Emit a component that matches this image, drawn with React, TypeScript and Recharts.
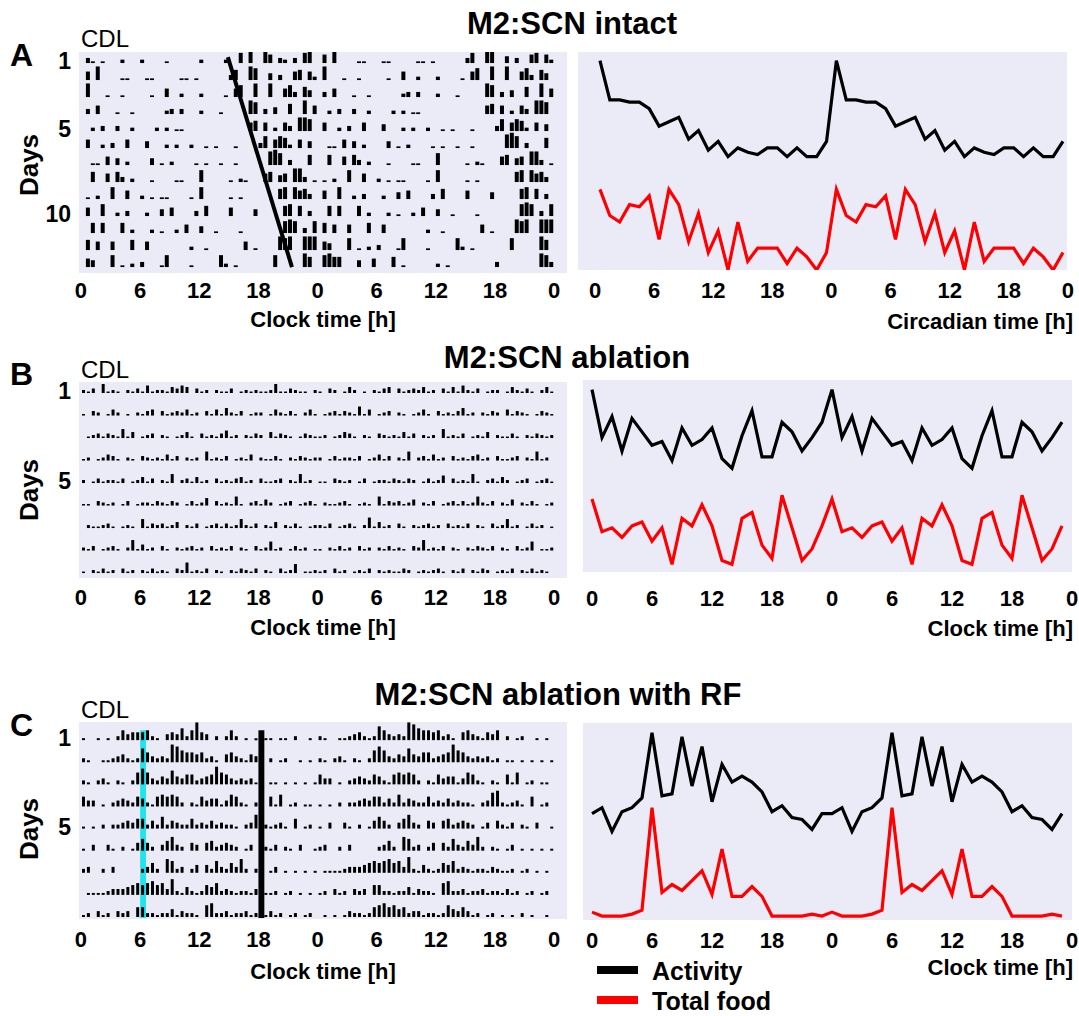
import React from "react";
import {
  Bar,
  BarChart,
  CartesianGrid,
  Line,
  LineChart,
  ReferenceArea,
  ReferenceLine,
  XAxis,
  YAxis,
} from "recharts";

const FONT = "'Liberation Sans', Arial, Helvetica, sans-serif";
const PANEL_BG = "#ebebf8";

const HOUR_TICKS = [0, 6, 12, 18, 24, 30, 36, 42, 48];

// wheel running per day, 30 min bins, height 0-9 (double plotted: row n = day n | day n+1)
const intactDays = [
  "03101000 20002000 01000000 20000200 60700850 32030670",
  "05080000 11000110 00001101 00000036 00870040 30056052",
  "08000100 10000010 05002000 20000105 70080080 05730640",
  "03050001 00100000 02303000 20001000 00870304 00600805",
  "00203003 00200002 02011000 00000000 00560502 05308870",
  "05002030 05000400 02020020 01010001 00003705 76205040",
  "00110504 02000040 10200001 01001001 00000089 70300060",
  "00600506 30200010 00011000 70000010 21000560 45088301",
  "01020070 05002010 11000010 70000010 10000000 67075630",
  "05007002 03000200 40500003 06000050 00040000 06706030",
  "00606000 60200020 10020500 40010000 10000000 07870307",
  "06050050 00600500 00000020 01000000 05010000 87800888",
  "05400070 10203000 17000010 00007201 00000007 00000860",
  "07866000 40050006 01000000 20100000 00003000 00000873",
];

const ablationDays = [
  "21306121 02131512 21435403 12021130 12121126 11321102",
  "10320142 01021340 31232412 03141521 30122014 21310241",
  "01231321 61401230 21012410 31213512 02132041 32101321",
  "12012431 02103212 14130212 06121301 21402113 10213212",
  "20131221 30124130 21602314 12031213 41203112 30216120",
  "11032120 13012213 21320131 25031216 10231420 12301231",
  "02112310 12106132 31240213 01231312 62130214 02131012",
  "21301231 02714120 31021231 20312130 21031261 20131201",
  "10213120 31202131 21032712 13021021 32130210 31260112",
  "12031201 21302121 13201212 31021302 13201213 02131210",
];

const rfDays = [
  "10010102 53444521 03436259 43020252 01010110 11020010",
  "21001123 42127532 32986554 52310453 21435020 12001010",
  "21023102 10268632 43743552 34596532 32312011 01010101",
  "53301023 43254215 65652021 53441365 21021051 60120110",
  "10102022 34355242 62432252 32423221 02378212 31050120",
  "10300310 20146420 35732043 04523432 01304213 02103001",
  "23002030 00002352 07623024 04263253 72021013 01010101",
  "01111233 34565675 63821421 25462321 22132112 01201010",
  "12031203 23055221 22413221 06722312 23122131 20120120",
  "01010132 21256756 45233122 12643531 20120101 02010010",
];

// activity onset line (intact) and restricted feeding marks (clock hours)
const intactOnset = { firstHour: 14.9, lastHour: 21.4 };
const rfFoodWindow = [6.0, 6.6];
const rfLightsMark = [18.0, 18.6];

// hourly profiles, relative scale 0-100
const intactActivity = [96, 78, 78, 77, 77, 74, 66, 68, 70, 60, 64, 55, 59, 52, 56, 54, 53, 56, 56, 52, 56, 52, 52, 59];
const intactFood = [37, 25, 22, 30, 29, 34, 14, 37, 30, 13, 26, 8, 18, 0, 22, 4, 10, 10, 10, 3, 10, 6, 0, 8];
const ablationActivity = [95, 70, 81, 63, 80, 73, 66, 68, 58, 75, 66, 69, 75, 59, 54, 71, 84, 60, 60, 78, 73, 63, 70, 78];
const ablationFood = [38, 21, 23, 18, 24, 26, 16, 23, 4, 28, 24, 35, 24, 6, 4, 28, 31, 14, 7, 40, 23, 6, 12, 24];
const rfActivity = [54, 57, 45, 55, 57, 62, 95, 63, 64, 93, 68, 88, 60, 79, 70, 73, 70, 65, 55, 58, 52, 51, 46, 54];
const rfFood = [4, 2, 2, 2, 3, 5, 57, 14, 18, 15, 20, 25, 13, 36, 12, 12, 17, 12, 2, 2, 2, 2, 3, 2];

const HourTick = (props: any) => {
  const { x, y, payload } = props;
  return (
    <text
      x={x}
      y={y}
      dy="0.71em"
      textAnchor="middle"
      fontSize={22}
      fontWeight="bold"
      fontFamily={FONT}
      fill="#000"
    >
      {payload.value % 24}
    </text>
  );
};

const rowBase = (row: number, nRows: number, padBottom: number) => padBottom + nRows - row;

type ActogramProps = {
  days: string[];
  top: number;
  plotHeight: number;
  padBottom: number;
  padTop: number;
  maxFrac: number;
  barSize: number;
  labelRows: number[];
  labelShift: number;
  tickMargin: number;
  children?: React.ReactNode;
};

const Actogram = ({
  days,
  top,
  plotHeight,
  padBottom,
  padTop,
  maxFrac,
  barSize,
  labelRows,
  labelShift,
  tickMargin,
  children,
}: ActogramProps) => {
  const perDay = days.map((d) => d.replace(/\s/g, "").split("").map(Number));
  const rows = perDay.slice(0, -1).map((d, i) => [...d, ...perDay[i + 1]]);
  const n = rows.length;
  const yMax = padBottom + n - 1 + padTop;

  const data = rows[0].map((_, b) => {
    const entry: Record<string, number> = { t: b / 2 + 0.25, pad: padBottom };
    rows.forEach((row, r) => {
      const h = (row[b] / 9) * maxFrac;
      entry[`a${r}`] = h;
      entry[`s${r}`] = 1 - h;
    });
    return entry;
  });

  const bars = [
    <Bar key="pad" dataKey="pad" stackId="d" fill="none" barSize={barSize} isAnimationActive={false} />,
  ];
  for (let r = n - 1; r >= 0; r--) {
    bars.push(
      <Bar key={`a${r}`} dataKey={`a${r}`} stackId="d" fill="#000" barSize={barSize} isAnimationActive={false} />
    );
    if (r > 0) {
      bars.push(
        <Bar key={`s${r}`} dataKey={`s${r}`} stackId="d" fill="none" barSize={barSize} isAnimationActive={false} />
      );
    }
  }

  const yTicks = labelRows.map((r) => rowBase(r, n, padBottom) + labelShift);

  return (
    <div style={{ position: "absolute", left: 0, top }}>
      <BarChart
        width={580}
        height={12 + plotHeight + 40}
        data={data}
        margin={{ top: 12, right: 13, bottom: 0, left: 0 }}
        barGap={0}
      >
        <CartesianGrid fill={PANEL_BG} stroke="none" horizontal={false} vertical={false} />
        <XAxis
          dataKey="t"
          type="number"
          domain={[-0.2, 49.3]}
          ticks={HOUR_TICKS}
          interval={0}
          allowDataOverflow
          axisLine={false}
          tickLine={false}
          tickMargin={tickMargin}
          height={40}
          tick={<HourTick />}
        />
        <YAxis
          type="number"
          domain={[0, yMax]}
          ticks={yTicks}
          interval={0}
          allowDataOverflow
          axisLine={false}
          tickLine={false}
          width={79}
          tickFormatter={(_v: number, i: number) => String(labelRows[i])}
          tick={{ fontSize: 23, fontWeight: "bold", fill: "#000", fontFamily: FONT }}
        />
        {bars}
        {children}
      </BarChart>
    </div>
  );
};

type ProfileProps = {
  activity: number[];
  food: number[];
  offset: number;
  domain: [number, number];
  left: number;
  top: number;
  width: number;
  plotHeight: number;
  marginLeft: number;
  marginRight: number;
  tickMargin: number;
};

const Profile = ({
  activity,
  food,
  offset,
  domain,
  left,
  top,
  width,
  plotHeight,
  marginLeft,
  marginRight,
  tickMargin,
}: ProfileProps) => {
  // double plotted, two identical cycles
  const act = [...activity, ...activity];
  const fd = [...food, ...food];
  const data = act.map((a, i) => ({ t: i + offset, activity: a, food: fd[i] }));

  return (
    <div style={{ position: "absolute", left, top }}>
      <LineChart
        width={width}
        height={12 + plotHeight + 40}
        data={data}
        margin={{ top: 12, right: marginRight, bottom: 0, left: marginLeft }}
      >
        <CartesianGrid fill={PANEL_BG} stroke="none" horizontal={false} vertical={false} />
        <XAxis
          dataKey="t"
          type="number"
          domain={domain}
          ticks={HOUR_TICKS}
          interval={0}
          allowDataOverflow
          axisLine={false}
          tickLine={false}
          tickMargin={tickMargin}
          height={40}
          tick={<HourTick />}
        />
        <YAxis hide domain={[0, 100]} allowDataOverflow />
        <Line
          type="linear"
          dataKey="activity"
          stroke="#000"
          strokeWidth={3.2}
          dot={false}
          isAnimationActive={false}
        />
        <Line
          type="linear"
          dataKey="food"
          stroke="#ff0000"
          strokeWidth={3.2}
          dot={false}
          isAnimationActive={false}
        />
      </LineChart>
    </div>
  );
};

type TxtProps = {
  children: React.ReactNode;
  x: number;
  y: number;
  size: number;
  bold?: boolean;
  align?: "left" | "center" | "right";
  rotate?: boolean;
};

const Txt = ({ children, x, y, size, bold = true, align = "center", rotate }: TxtProps) => {
  const tx = align === "center" ? "-50%" : align === "right" ? "-100%" : "0";
  return (
    <div
      style={{
        position: "absolute",
        left: x,
        top: y,
        fontSize: size,
        lineHeight: 1,
        fontWeight: bold ? "bold" : "normal",
        fontFamily: FONT,
        color: "#000",
        whiteSpace: "nowrap",
        transform: `translate(${tx}, -50%)${rotate ? " rotate(-90deg)" : ""}`,
      }}
    >
      {children}
    </div>
  );
};

const LegendKey = ({ color, label, y }: { color: string; label: string; y: number }) => (
  <>
    <div
      style={{ position: "absolute", left: 597, top: y - 4, width: 41, height: 8, background: color }}
    />
    <Txt x={652} y={y + 1} size={25} align="left">
      {label}
    </Txt>
  </>
);

export default function App() {
  const nA = intactDays.length - 1;
  const nC = rfDays.length - 1;
  const padA = 0.35;
  const padC = 0.09;

  return (
    <div
      style={{
        position: "absolute",
        left: 0,
        top: 0,
        width: 1079,
        height: 1016,
        background: "#fff",
        overflow: "hidden",
      }}
    >
      {/* A: SCN intact */}
      <Actogram
        days={intactDays}
        top={40}
        plotHeight={221}
        padBottom={padA}
        padTop={0.65}
        maxFrac={0.9}
        barSize={4}
        labelRows={[1, 5, 10]}
        labelShift={0.15}
        tickMargin={3}
      >
        <ReferenceLine
          segment={[
            { x: intactOnset.firstHour, y: rowBase(1, nA, padA) + 0.35 },
            { x: intactOnset.lastHour, y: rowBase(nA, nA, padA) },
          ]}
          stroke="#000"
          strokeWidth={4}
          ifOverflow="visible"
        />
      </Actogram>
      <Profile
        activity={intactActivity}
        food={intactFood}
        offset={0.5}
        domain={[-1.73, 47.91]}
        left={570}
        top={40}
        width={510}
        plotHeight={218}
        marginLeft={8}
        marginRight={13}
        tickMargin={6}
      />

      {/* B: SCN ablation */}
      <Actogram
        days={ablationDays}
        top={370}
        plotHeight={196}
        padBottom={0.22}
        padTop={0.49}
        maxFrac={0.6}
        barSize={3}
        labelRows={[1, 5]}
        labelShift={0.1}
        tickMargin={5}
      />
      <Profile
        activity={ablationActivity}
        food={ablationFood}
        offset={0}
        domain={[-0.9, 48]}
        left={575}
        top={368}
        width={504}
        plotHeight={192}
        marginLeft={8}
        marginRight={7}
        tickMargin={12}
      />

      {/* C: SCN ablation with restricted feeding */}
      <Actogram
        days={rfDays}
        top={710}
        plotHeight={197}
        padBottom={padC}
        padTop={0.82}
        maxFrac={0.8}
        barSize={3}
        labelRows={[1, 5]}
        labelShift={0.1}
        tickMargin={6}
      >
        <ReferenceArea
          x1={rfFoodWindow[0]}
          x2={rfFoodWindow[1]}
          y1={0.05}
          y2={rowBase(1, nC, padC) + 0.45}
          fill="#22e4ee"
          fillOpacity={1}
          stroke="none"
          ifOverflow="visible"
        />
        <ReferenceArea
          x1={rfLightsMark[0]}
          x2={rfLightsMark[1]}
          y1={0.05}
          y2={rowBase(1, nC, padC) + 0.45}
          fill="#000"
          fillOpacity={1}
          stroke="none"
          ifOverflow="visible"
        />
      </Actogram>
      <Profile
        activity={rfActivity}
        food={rfFood}
        offset={0}
        domain={[-0.9, 48]}
        left={575}
        top={711}
        width={504}
        plotHeight={197}
        marginLeft={8}
        marginRight={7}
        tickMargin={6}
      />

      {/* titles and labels */}
      <Txt x={572} y={23} size={31}>M2:SCN intact</Txt>
      <Txt x={567} y={357} size={31}>M2:SCN ablation</Txt>
      <Txt x={558} y={694} size={31}>M2:SCN ablation with RF</Txt>

      <Txt x={10} y={55} size={32} align="left">A</Txt>
      <Txt x={10} y={374} size={32} align="left">B</Txt>
      <Txt x={10} y={725} size={32} align="left">C</Txt>

      <Txt x={81} y={39} size={24} bold={false} align="left">CDL</Txt>
      <Txt x={81} y={370} size={24} bold={false} align="left">CDL</Txt>
      <Txt x={81} y={710} size={24} bold={false} align="left">CDL</Txt>

      <Txt x={29} y={165} size={26} rotate>Days</Txt>
      <Txt x={29} y={490} size={26} rotate>Days</Txt>
      <Txt x={29} y={829} size={26} rotate>Days</Txt>

      <Txt x={323} y={320} size={22}>Clock time [h]</Txt>
      <Txt x={323} y={628} size={22}>Clock time [h]</Txt>
      <Txt x={323} y={972} size={22}>Clock time [h]</Txt>

      <Txt x={1073} y={322} size={22} align="right">Circadian time [h]</Txt>
      <Txt x={1073} y={629} size={22} align="right">Clock time [h]</Txt>
      <Txt x={1073} y={968} size={22} align="right">Clock time [h]</Txt>

      <LegendKey color="#000" label="Activity" y={970} />
      <LegendKey color="#ff0000" label="Total food" y={1000} />
    </div>
  );
}
